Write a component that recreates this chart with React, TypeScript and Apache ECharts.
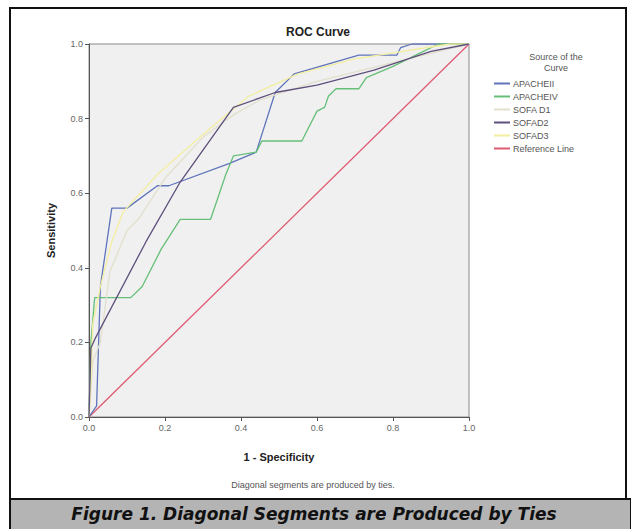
import React, { useEffect, useRef } from "react";
import * as echarts from "echarts";

const seriesNames = ["APACHEII", "APACHEIV", "SOFA D1", "SOFAD2", "SOFAD3", "Reference Line"];
const seriesColors = ["#5f74bb", "#66bf78", "#e2dfcc", "#5e4f7c", "#f3eea0", "#e05a72"];

const apacheII: [number, number][] = [
  [0, 0], [0.02, 0.03], [0.03, 0.35], [0.06, 0.56], [0.1, 0.56], [0.18, 0.62], [0.21, 0.62],
  [0.37, 0.68], [0.44, 0.71], [0.49, 0.87], [0.54, 0.92], [0.71, 0.97], [0.81, 0.97],
  [0.82, 0.99], [0.85, 1.0], [1, 1],
];
const apacheIV: [number, number][] = [
  [0, 0], [0.005, 0.2], [0.015, 0.32], [0.11, 0.32], [0.14, 0.35], [0.19, 0.45], [0.24, 0.53],
  [0.32, 0.53], [0.36, 0.65], [0.38, 0.7], [0.44, 0.71], [0.455, 0.74], [0.56, 0.74],
  [0.6, 0.82], [0.62, 0.83], [0.63, 0.86], [0.65, 0.88], [0.71, 0.88], [0.73, 0.91],
  [0.8, 0.94], [0.86, 0.97], [0.92, 1.0], [1, 1],
];
const sofaD1: [number, number][] = [
  [0, 0], [0.01, 0.15], [0.03, 0.2], [0.055, 0.39], [0.1, 0.5], [0.13, 0.53], [0.2, 0.64],
  [0.3, 0.75], [0.38, 0.81], [0.45, 0.85], [0.6, 0.9], [0.8, 0.95], [1, 1],
];
const sofaD2: [number, number][] = [
  [0, 0], [0.005, 0.185], [0.016, 0.21], [0.15, 0.47], [0.24, 0.63], [0.38, 0.83],
  [0.49, 0.87], [0.6, 0.89], [0.75, 0.93], [0.9, 0.98], [1, 1],
];
const sofaD3: [number, number][] = [
  [0, 0], [0.005, 0.1], [0.01, 0.25], [0.03, 0.35], [0.06, 0.47], [0.09, 0.55], [0.18, 0.65],
  [0.28, 0.74], [0.35, 0.8], [0.42, 0.86], [0.55, 0.92], [0.7, 0.96], [0.95, 1.0], [1, 1],
];
const referenceLine: [number, number][] = [[0, 0], [1, 1]];

const allData = [apacheII, apacheIV, sofaD1, sofaD2, sofaD3, referenceLine];

const FONT = "'Liberation Sans', Arial, sans-serif";

export default function App() {
  const ref = useRef<HTMLDivElement>(null);
  useEffect(() => {
    if (!ref.current) return;
    const chart = echarts.init(ref.current, undefined, { renderer: "svg" });
    const drawOrder = [5, 0, 1, 2, 4, 3];
    chart.setOption({
      animation: false,
      backgroundColor: "#ffffff",
      textStyle: { fontFamily: FONT },
      title: {
        text: "ROC Curve",
        left: 313,
        top: 21,
        textAlign: "center",
        textStyle: { fontSize: 12, fontWeight: "bold", color: "#222", fontFamily: FONT },
      },
      grid: {
        left: 89, top: 44, width: 380, height: 373,
        show: true, backgroundColor: "#f0f0f0", borderColor: "#8a8a8a", borderWidth: 1,
      },
      xAxis: {
        type: "value", min: 0, max: 1, interval: 0.2,
        name: "1 - Specificity", nameLocation: "middle", nameGap: 34,
        nameTextStyle: { fontSize: 11, fontWeight: "bold", color: "#222" },
        axisLine: { lineStyle: { color: "#555", width: 1 } },
        axisTick: { show: true, length: 4, lineStyle: { color: "#555" } },
        axisLabel: { fontSize: 9, color: "#666", margin: 6, formatter: (v: number) => v.toFixed(1) },
        splitLine: { show: false },
      },
      yAxis: {
        type: "value", min: 0, max: 1, interval: 0.2,
        name: "Sensitivity", nameLocation: "middle", nameGap: 33,
        nameTextStyle: { fontSize: 11, fontWeight: "bold", color: "#222" },
        axisLine: { show: true, lineStyle: { color: "#555", width: 1 } },
        axisTick: { show: true, length: 4, lineStyle: { color: "#555" } },
        axisLabel: { fontSize: 9, color: "#666", margin: 6, formatter: (v: number) => v.toFixed(1) },
        splitLine: { show: false },
      },
      legend: {
        orient: "vertical",
        left: 489, top: 74,
        itemWidth: 16, itemHeight: 2, itemGap: 4,
        icon: "rect",
        data: seriesNames,
        textStyle: { fontSize: 9, color: "#555", padding: [0, 0, 0, -2] },
      },
      series: drawOrder.map((i) => ({
        name: seriesNames[i],
        type: "line",
        data: allData[i],
        showSymbol: false,
        symbol: "none",
        lineStyle: { color: seriesColors[i], width: 1.3 },
        itemStyle: { color: seriesColors[i] },
        z: 2 + drawOrder.indexOf(i),
      })),
      graphic: [
        { type: "rect", shape: { x: 10, y: 8, width: 616, height: 491 }, style: { fill: "none", stroke: "#111", lineWidth: 2 }, z: 0, silent: true },
        { type: "rect", shape: { x: 10, y: 499, width: 621, height: 31 }, style: { fill: "#b4b4b4", stroke: "#111", lineWidth: 2 }, z: 1, silent: true },
        {
          type: "text", x: 314, y: 514,
          style: { text: "Figure 1. Diagonal Segments are Produced by Ties", font: "italic bold 17px 'DejaVu Sans', Verdana, sans-serif", fill: "#111", textAlign: "center", textVerticalAlign: "middle" },
          z: 5,
        },
        {
          type: "text", x: 313, y: 485,
          style: { text: "Diagonal segments are produced by ties.", font: `9px ${FONT}`, fill: "#555", textAlign: "center", textVerticalAlign: "middle" },
          z: 5,
        },
        {
          type: "text", x: 556, y: 51,
          style: { text: "Source of the\nCurve", font: `9px ${FONT}`, fill: "#555", textAlign: "center", lineHeight: 11 },
          z: 5,
        },
      ],
    });
    return () => chart.dispose();
  }, []);
  return <div ref={ref} style={{ position: "fixed", left: 0, top: 0, width: 631, height: 529 }} />;
}
